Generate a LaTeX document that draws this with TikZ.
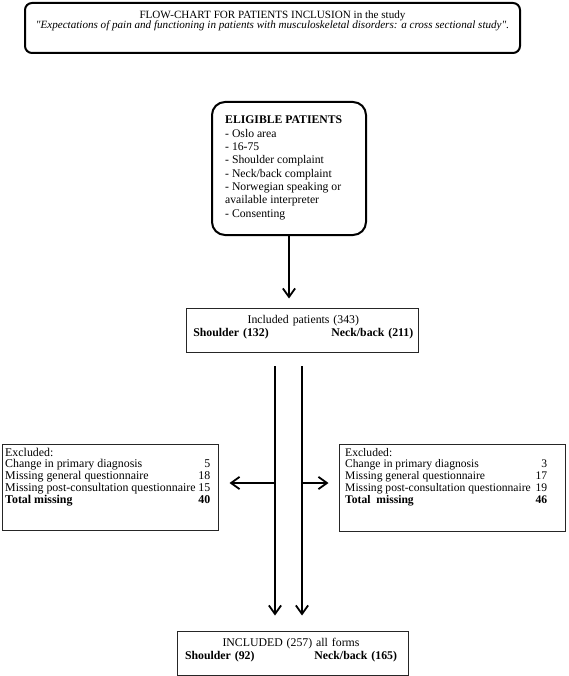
\documentclass[tikz,border=0pt]{standalone}
\usepackage{fontspec}
\setmainfont{Liberation Serif}
\usetikzlibrary{arrows.meta}
\usetikzlibrary{positioning}
\tikzset{%
	thkbox/.style={rectangle,draw,line width=2.0,rounded corners=10pt},
	thnbox/.style={rectangle,draw=black!85,line width=1.0},
	txt/.style={inner sep=0,font=\fontsize{11.8}{13.3}\selectfont},
	arr/.style={arrows={-Straight Barb[length=0.3cm,width=0.43cm]},line width=1.8},
}

\begin{document}
\begin{tikzpicture}[x=1pt,y=1pt]
	\draw[draw=none] (0,0) rectangle (568,-676);
	% title
	\node (tbox) at (272.5,-28) [thkbox,rounded corners=7pt,minimum width=495pt,minimum height=50pt] {};
	\node (title) at (272.5,-10.5) [txt,anchor=north,align=center,font=\fontsize{11.1}{10.5}\selectfont] {FLOW-CHART FOR PATIENTS INCLUSION in the study\\ \textit{\textquotedbl Expectations of pain and functioning in patients with musculoskeletal disorders: a cross sectional study\textquotedbl.}};
	
	% eligible
	\node (elig) at (289,-168.5) [thkbox,rounded corners=13pt,minimum width=154pt,minimum height=133pt] {};
	\node (eltxt) at (225,-116) [txt,anchor=north west,align=left,font=\fontsize{11.7}{13.3}\selectfont] {\textbf{ELIGIBLE PATIENTS}\\- Oslo area\\- 16-75\\- Shoulder complaint\\- Neck/back complaint\\- Norwegian speaking or\\available interpreter\\- Consenting};
	
	% included
	\node (inc) at (302,-330) [thnbox,minimum width=232pt,minimum height=44pt] {};
	\node (inctxt) at (303.3,-314.8) [txt,anchor=north,text width=220pt,align=center] {Included patients (343)\\ \textbf{Shoulder (132)}\hfill\textbf{Neck/back (211)}};
	
	% excluded
	\node (exl) at (110,-487) [thnbox,minimum width=216pt,minimum height=86pt] {};
	\node (exltxt) at (5,-447.7) [txt,anchor=north west,font=\fontsize{11.9}{11.8}\selectfont] {\begin{tabular*}{205pt}{@{}l@{\extracolsep{\fill}}r@{}}
		Excluded: & \\
		Change in primary diagnosis & 5\\
		Missing general questionnaire & 18\\
		Missing post-consultation questionnaire & 15\\
		\textbf{Total missing} & \textbf{40}
	\end{tabular*}};
	\node (exr) at (452,-487.5) [thnbox,minimum width=226pt,minimum height=87pt] {};
	\node (exrtxt) at (345,-447.7) [txt,anchor=north west,font=\fontsize{11.6}{11.8}\selectfont] {\begin{tabular*}{202pt}{@{}l@{\extracolsep{\fill}}r@{}}
		Excluded: & \\
		Change in primary diagnosis & 3\\
		Missing general questionnaire & 17\\
		Missing post-consultation questionnaire & 19\\
		\textbf{Total\ \ missing} & \textbf{46}
	\end{tabular*}};
	
	% final
	\node (fin) at (292.5,-653) [thnbox,minimum width=231pt,minimum height=44pt] {};
	\node (fintxt) at (291,-637.5) [txt,anchor=north,text width=212pt,align=center,font=\fontsize{11.8}{13}\selectfont] {INCLUDED (257) all forms\\ \textbf{Shoulder (92)}\hfill\textbf{Neck/back (165)}};
	
	% connectors
	\coordinate (ls) at (275,-366);
	\coordinate (rs) at (302,-366);
	\coordinate (lx) at (275,-483);
	\coordinate (rx) at (302,-483);
	\draw[arr,shorten >=9pt] (elig.south) -- (elig.south |- inc.north);
	\draw[arr,shorten >=15pt] (ls) -- (ls |- fin.north);
	\draw[arr,shorten >=15pt] (rs) -- (rs |- fin.north);
	\draw[arr,shorten >=11pt] (lx) -- (exl.east |- lx);
	\draw[arr,shorten >=10pt] (rx) -- (exr.west |- rx);
\end{tikzpicture}
\end{document}
